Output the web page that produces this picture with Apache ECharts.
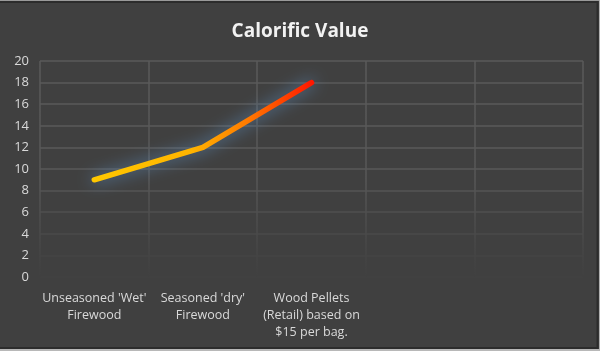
<!DOCTYPE html>
<html>
<head>
<meta charset="utf-8">
<script src="https://cdn.jsdelivr.net/npm/echarts@6/dist/echarts.min.js"></script>
<style>
html,body{margin:0;padding:0;background:#404040;}
#chart{width:600px;height:351px;}
</style>
</head>
<body>
<div id="chart"></div>
<script>
var categories = ["Unseasoned 'Wet'\nFirewood", "Seasoned 'dry'\nFirewood", "Wood Pellets\n(Retail) based on\n$15 per bag.", "", ""];
var values = [9, 12, 18];
var yTicks = [0, 2, 4, 6, 8, 10, 12, 14, 16, 18, 20];
var titleText = "Calorific Value";

var chart = echarts.init(document.getElementById('chart'), null, {renderer: 'canvas'});
var gridTop = 61, gridBottomY = 277;
var option = {
  backgroundColor: '#404040',
  animation: false,
  title: {
    text: titleText,
    left: 'center',
    top: 17,
    textStyle: {color: '#f2f2f2', fontSize: 19, fontWeight: 'bold', fontFamily: 'Open Sans'}
  },
  grid: {left: 40, right: 17, top: gridTop, bottom: 351 - gridBottomY, containLabel: false},
  xAxis: {
    type: 'category',
    data: categories,
    boundaryGap: true,
    axisLine: {show: false},
    axisTick: {show: false},
    axisLabel: {color: '#d9d9d9', fontSize: 12.5, fontFamily: 'Open Sans', lineHeight: 17, margin: 13, interval: 0},
    splitLine: {
      show: true,
      interval: 0,
      lineStyle: {
        width: 1.5,
        color: new echarts.graphic.LinearGradient(0, gridTop, 0, gridBottomY, [
          {offset: 0, color: '#5a5a5a'},
          {offset: 0.55, color: '#575757'},
          {offset: 0.85, color: '#474747'},
          {offset: 1, color: '#404040'}
        ], true)
      }
    }
  },
  yAxis: {
    type: 'value',
    min: 0, max: 20, interval: 2,
    axisLine: {show: false},
    axisTick: {show: false},
    axisLabel: {color: '#d9d9d9', fontSize: 13, fontFamily: 'Open Sans', margin: 11,
      formatter: function (v) { return yTicks.indexOf(v) >= 0 ? String(v) : ''; }},
    splitLine: {
      show: true,
      lineStyle: {
        width: 1.5,
        color: ['#424242', '#454545', '#4a4a4a', '#4f4f4f', '#545454', '#585858', '#5a5a5a', '#5a5a5a', '#5a5a5a', '#5a5a5a', '#5a5a5a']
      }
    }
  },
  graphic: [
    {type: 'line', shape: {x1: 0, y1: 0.5, x2: 600, y2: 0.5}, style: {stroke: '#9a9a9a', lineWidth: 1}, silent: true},
    {type: 'line', shape: {x1: 0, y1: 2, x2: 598, y2: 2}, style: {stroke: '#2c2c2c', lineWidth: 2}, silent: true},
    {type: 'line', shape: {x1: 597.5, y1: 1, x2: 597.5, y2: 349}, style: {stroke: '#2c2c2c', lineWidth: 2}, silent: true},
    {type: 'line', shape: {x1: 599.5, y1: 0, x2: 599.5, y2: 351}, style: {stroke: '#b0b0b0', lineWidth: 1}, silent: true},
    {type: 'line', shape: {x1: 0, y1: 348, x2: 598, y2: 348}, style: {stroke: '#2c2c2c', lineWidth: 2}, silent: true},
    {type: 'rect', shape: {x: 0, y: 349, width: 600, height: 2}, style: {fill: '#b8b8b8'}, silent: true}
  ],
  series: [{
    type: 'line',
    data: values,
    symbol: 'none',
    smooth: false,
    lineStyle: {
      width: 5.5,
      cap: 'round',
      join: 'round',
      color: new echarts.graphic.LinearGradient(0, 0, 1, 0, [
        {offset: 0, color: '#ffc800'},
        {offset: 0.45, color: '#ffb400'},
        {offset: 0.7, color: '#ff7a00'},
        {offset: 1, color: '#ff1400'}
      ]),
      shadowColor: 'rgba(100,165,230,0.7)',
      shadowBlur: 16
    }
  }]
};
chart.setOption(option);
</script>
</body>
</html>
